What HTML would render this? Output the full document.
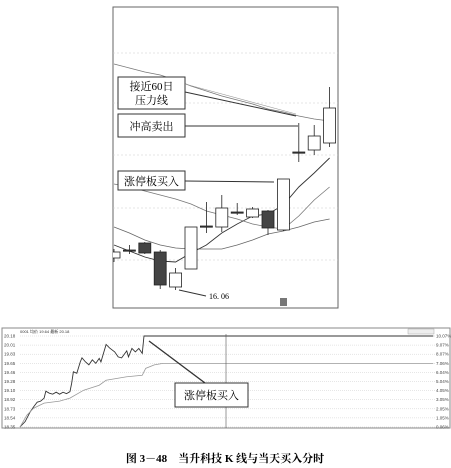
<!DOCTYPE html>
<html><head><meta charset="utf-8"><style>
html,body{margin:0;padding:0;background:#fff;width:451px;height:468px;overflow:hidden}
svg{display:block;font-family:"Liberation Serif","Noto Serif CJK SC",serif}
</style></head><body>
<svg id="s" width="451" height="468" viewBox="0 0 451 468">
<defs><clipPath id="kclip"><rect x="113" y="7" width="225" height="301"/></clipPath></defs>
<rect x="113" y="7" width="225" height="301" fill="#fff" stroke="#666" stroke-width="1"/>
<g id="kgrid"></g><g id="kma" clip-path="url(#kclip)"></g><g id="kc" clip-path="url(#kclip)"></g>
<g>
<rect x="118" y="77" width="67" height="32" fill="#fff" stroke="#333"/>
<text x="151.5" y="90" font-size="11" text-anchor="middle">接近60日</text>
<text x="151.5" y="104" font-size="11" text-anchor="middle">压力线</text>
<line x1="185" y1="92" x2="296" y2="116" stroke="#333"/>
<line x1="185" y1="84" x2="296" y2="114" stroke="#999" stroke-width="0.6"/>
<rect x="118" y="114" width="67" height="23" fill="#fff" stroke="#333"/>
<text x="151.5" y="130" font-size="11" text-anchor="middle">冲高卖出</text>
<line x1="185" y1="126" x2="298" y2="126" stroke="#333"/>
<rect x="118" y="171" width="67" height="19" fill="#fff" stroke="#333"/>
<text x="151.5" y="185" font-size="11" text-anchor="middle">涨停板买入</text>
<line x1="185" y1="181" x2="274" y2="182" stroke="#333"/>
<line x1="206" y1="296" x2="179" y2="290" stroke="#333"/>
<text x="209" y="299" font-size="8">16. 06</text>
<rect x="280" y="298" width="7" height="8" fill="#777"/>
</g>
<rect x="2" y="328" width="448" height="100" fill="#fff" stroke="#888"/>
<text x="20" y="333" font-size="4" fill="#333" font-family="Liberation Sans">0001 均价 19.64 最新 20.18</text>
<rect x="408" y="329" width="26" height="5" fill="#eee" stroke="#999" stroke-width="0.4"/>
<g id="ig"></g><g id="il"></g>
<line x1="226" y1="334" x2="226" y2="428" stroke="#555" stroke-width="0.6"/>
<rect x="175" y="383" width="73" height="24" fill="#fff" stroke="#333"/>
<text x="211.5" y="399" font-size="11" text-anchor="middle">涨停板买入</text>
<line x1="205" y1="383" x2="149" y2="341" stroke="#333" stroke-width="1.3"/>
<text x="225" y="462" font-size="11" font-weight="bold" text-anchor="middle">图 3－48　当升科技 K 线与当天买入分时</text>
</svg>
<script>
const opens=[17.66,18.06,18.41,17.96,16.21,17.11,19.26,19.21,19.96,19.71,20.01,19.06,22.96,23.06,23.41];
const closes=[17.96,18.01,17.91,16.31,16.91,19.21,19.21,20.16,19.91,20.11,19.16,21.61,22.94,23.76,25.16];
const highs=[18.11,18.31,18.46,18.06,17.16,19.21,20.46,20.81,20.41,20.21,20.06,21.61,24.41,24.31,26.21];
const lows=[17.46,17.86,17.86,16.11,16.06,17.11,18.91,18.96,19.81,19.66,18.81,19.01,22.46,22.81,23.21];
const ma5=[18.31,18.01,17.71,17.51,17.46,17.91,18.31,18.91,19.36,19.76,19.86,20.31,21.21,21.91,22.66];
const ma10=[19.21,18.91,18.56,18.31,18.16,18.11,18.11,18.11,18.31,18.56,18.86,19.01,19.21,19.46,19.61];
const ma30=[21.36,21.21,21.01,20.81,20.61,20.36,20.01,19.81,19.61,19.36,19.21,19.11,19.76,20.56,21.21];
const ma60=[27.36,27.16,26.96,26.81,26.56,26.26,26.01,25.76,25.56,25.36,25.11,24.96,24.76,24.61,24.51];
const priceMin=[0,3,6,8,10,12,14,15,17,19,21,23,25,27,29,30,31,33,35,36,38,40,42,44,46,47,50,52,55,57,59,62,63,65,67,69,71,72,240];
const priceVal=[18.35,18.46,18.66,18.76,18.85,18.87,18.93,19.07,19.03,19.01,19.05,19.01,19.05,19.02,19.06,19.23,19.46,19.43,19.66,19.74,19.66,19.60,19.70,19.63,19.73,19.66,20.01,19.94,19.86,19.76,19.74,19.88,19.76,19.93,19.86,19.93,19.83,20.18,20.18];
const avgMin=[0,4,8,14,23,29,37,46,50,62,71,73,78,83,240];
const avgVal=[18.35,18.59,18.73,18.83,18.87,18.93,19.09,19.19,19.29,19.36,19.39,19.53,19.60,19.63,19.63];
const leftTicks=["20.18","20.01","19.83","19.65","19.46","19.28","19.10","18.92","18.73","18.54","18.35"];
const rightTicks=["10.07%","9.07%","8.07%","7.06%","6.04%","5.04%","4.05%","3.05%","2.05%","1.05%","0.06%"];
const NS="http://www.w3.org/2000/svg";
function mk(t,a,p){const e=document.createElementNS(NS,t);for(const k in a)e.setAttribute(k,a[k]);p.appendChild(e);return e;}
const ky=p=>290-(p-16.06)*20, kx=i=>114+i*15.4;
const kg=document.getElementById('kgrid');
[53,103,155,208,260].forEach(y=>{const l=mk('line',{x1:113,x2:338,y1:y,y2:y,stroke:'#ccc','stroke-dasharray':'2,2','stroke-width':0.6},kg);

});
const km=document.getElementById('kma');
[[ma5,'#333',0.9,'ma5-line'],[ma10,'#666',0.8,'ma10-line'],[ma30,'#777',0.8,'ma30-line'],[ma60,'#777',0.8,'ma60-line']].forEach(([a,c,w,n])=>{
const l=mk('polyline',{points:a.map((v,i)=>kx(i)+','+ky(v)).join(' '),fill:'none',stroke:c,'stroke-width':w},km);

});
const kc=document.getElementById('kc');
opens.forEach((o,i)=>{const c=closes[i],x=kx(i),up=c>=o;
const g=mk('g',{},kc);


mk('line',{x1:x,x2:x,y1:ky(highs[i]),y2:ky(lows[i]),stroke:'#222','stroke-width':0.8},g);
const t=ky(Math.max(o,c)),b=ky(Math.min(o,c));
mk('rect',{x:x-6,y:t,width:12,height:Math.max(1.2,b-t),fill:up?'#fff':'#444',stroke:'#222','stroke-width':0.8},g);});
const ig=document.getElementById('ig');
const iy=p=>427-(p-18.35)*91/1.83, ix=m=>20+m*1.722;
leftTicks.forEach((t,i)=>{const y=336+i*9.1;
const l=mk('line',{x1:20,x2:435,y1:y,y2:y,stroke:'#ccc','stroke-width':0.5,'stroke-dasharray':'1,1'},ig);


const a=mk('text',{x:4,y:y+1.5,'font-size':4.5,fill:'#444','font-family':'Liberation Sans'},ig);a.textContent=t;


const b=mk('text',{x:436,y:y+1.5,'font-size':4.5,fill:'#444','font-family':'Liberation Sans'},ig);b.textContent=rightTicks[i];

});
const il=document.getElementById('il');
const pl=mk('polyline',{points:priceMin.map((m,i)=>ix(m)+','+iy(priceVal[i])).join(' '),fill:'none',stroke:'#333','stroke-width':0.9},il);


const al=mk('polyline',{points:avgMin.map((m,i)=>ix(m)+','+iy(avgVal[i])).join(' '),fill:'none',stroke:'#999','stroke-width':0.8},il);


</script>
</body></html>
